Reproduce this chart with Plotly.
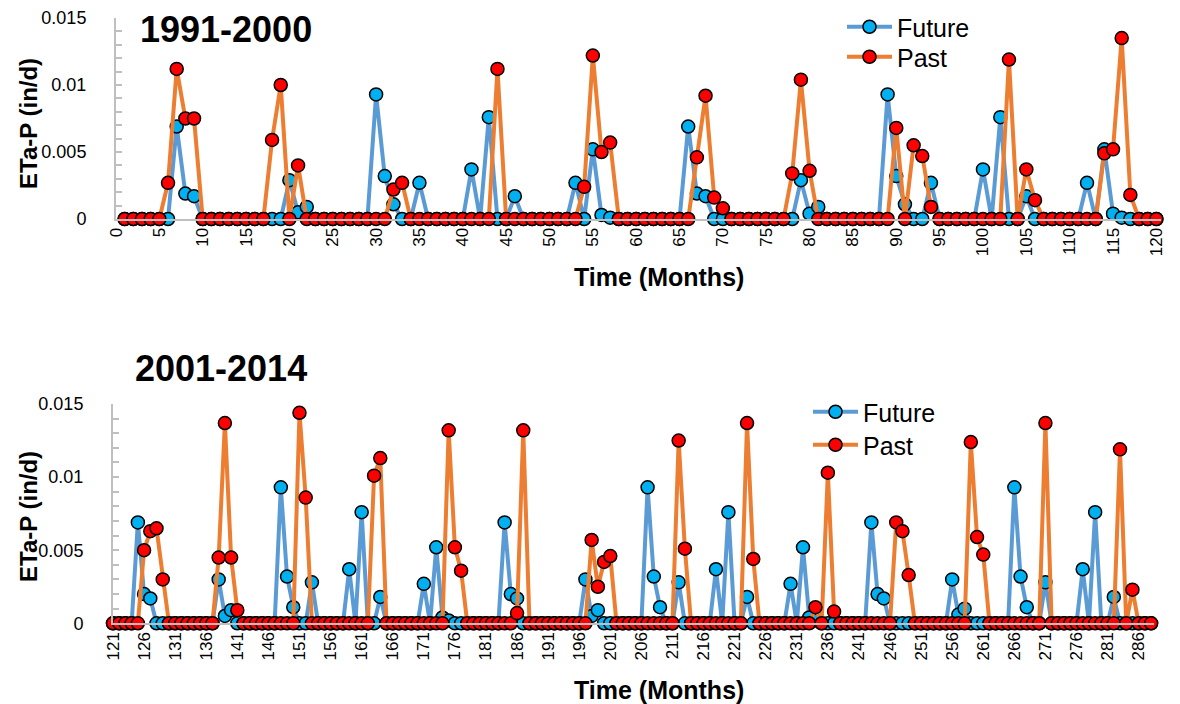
import plotly.graph_objects as go

# ---- data (months with non-zero ETa-P, in/d) ----
top_months = list(range(1, 121))
bottom_months = list(range(121, 289))

future_top = {
    7: 0.0069, 8: 0.0019, 9: 0.0017, 20: 0.0029, 21: 0.0005, 22: 0.0009,
    30: 0.0093, 31: 0.0032, 32: 0.0011, 35: 0.0027, 41: 0.0037, 43: 0.0076,
    46: 0.0017, 53: 0.0027, 55: 0.0052, 56: 0.0003, 57: 0.0001, 66: 0.0069,
    67: 0.0019, 68: 0.0017, 79: 0.0029, 80: 0.0004, 81: 0.0009, 89: 0.0093,
    90: 0.0032, 91: 0.0011, 94: 0.0027, 100: 0.0037, 102: 0.0076, 105: 0.0017,
    112: 0.0027, 114: 0.0052, 115: 0.0004, 116: 0.0001,
}
past_top = {
    6: 0.0027, 7: 0.0112, 8: 0.0075, 9: 0.0075, 18: 0.0059, 19: 0.0100,
    21: 0.0040, 32: 0.0022, 33: 0.0027, 44: 0.0112, 54: 0.0024, 55: 0.0122,
    56: 0.0050, 57: 0.0057, 67: 0.0046, 68: 0.0092, 69: 0.0016, 70: 0.0008,
    78: 0.0034, 79: 0.0104, 80: 0.0036, 90: 0.0068, 92: 0.0055, 93: 0.0047,
    94: 0.0009, 103: 0.0119, 105: 0.0037, 106: 0.0014, 114: 0.0049, 115: 0.0052,
    116: 0.0135, 117: 0.0018,
}
future_bottom = {
    125: 0.0069, 126: 0.0020, 127: 0.0017, 138: 0.0030, 139: 0.0005, 140: 0.0009,
    148: 0.0093, 149: 0.0032, 150: 0.0011, 153: 0.0028, 159: 0.0037, 161: 0.0076,
    164: 0.0018, 171: 0.0027, 173: 0.0052, 174: 0.0004, 175: 0.0002, 184: 0.0069,
    185: 0.0020, 186: 0.0017, 197: 0.0030, 198: 0.0005, 199: 0.0009, 207: 0.0093,
    208: 0.0032, 209: 0.0011, 212: 0.0028, 218: 0.0037, 220: 0.0076, 223: 0.0018,
    230: 0.0027, 232: 0.0052, 233: 0.0004, 234: 0.0002, 243: 0.0069, 244: 0.0020,
    245: 0.0017, 256: 0.0030, 257: 0.0006, 258: 0.0010, 266: 0.0093, 267: 0.0032,
    268: 0.0011, 271: 0.0028, 277: 0.0037, 279: 0.0076, 282: 0.0018,
}
past_bottom = {
    126: 0.0050, 127: 0.0063, 128: 0.0065, 129: 0.0030, 138: 0.0045, 139: 0.0137,
    140: 0.0045, 141: 0.0009, 151: 0.0144, 152: 0.0086, 163: 0.0101, 164: 0.0113,
    175: 0.0132, 176: 0.0052, 177: 0.0036, 186: 0.0007, 187: 0.0132, 198: 0.0057,
    199: 0.0025, 200: 0.0042, 201: 0.0046, 212: 0.0125, 213: 0.0051, 223: 0.0137,
    224: 0.0044, 234: 0.0011, 236: 0.0103, 237: 0.0008, 247: 0.0069, 248: 0.0063,
    249: 0.0033, 259: 0.0124, 260: 0.0059, 261: 0.0047, 271: 0.0137, 283: 0.0119,
    285: 0.0023,
}

top_ticks = list(range(0, 121, 5))
bottom_ticks = list(range(121, 289, 5))
y_ticks = [0, 0.005, 0.01, 0.015]
y_ticktext = ["0", "0.005", "0.01", "0.015"]

W, H = 1180, 704
FONT = "Liberation Sans, Arial, sans-serif"
BLUE_LINE, BLUE_MARK = "#5B9BD5", "#00B0F0"
ORANGE_LINE, RED_MARK = "#ED7D31", "#FF0000"


def series(months, values):
    return [values.get(m, 0.0) for m in months]


def px(x):
    return x / W


def py(y):
    return 1 - y / H


fig = go.Figure()

# one legend per row so each entry can sit where the reference has it
for months, fut, pst, xa, ya, leg_f, leg_p in [
    (top_months, future_top, past_top, "x", "y", "legend2", "legend3"),
    (bottom_months, future_bottom, past_bottom, "x2", "y2", "legend4", "legend5"),
]:
    fig.add_trace(go.Scatter(
        x=months, y=series(months, fut), mode="lines+markers", name="Future",
        line=dict(color=BLUE_LINE, width=4),
        marker=dict(size=13, color=BLUE_MARK, line=dict(color="black", width=1.5)),
        cliponaxis=False, xaxis=xa, yaxis=ya, legend=leg_f, showlegend=True,
    ))
    fig.add_trace(go.Scatter(
        x=months, y=series(months, pst), mode="lines+markers", name="Past",
        line=dict(color=ORANGE_LINE, width=4),
        marker=dict(size=13, color=RED_MARK, line=dict(color="black", width=1.5)),
        cliponaxis=False, xaxis=xa, yaxis=ya, legend=leg_p, showlegend=True,
    ))

xcommon = dict(
    showgrid=False, zeroline=False, showline=True, linecolor="#BFBFBF", linewidth=2,
    ticks="", tickangle=-90, automargin=False,
    tickfont=dict(size=17, color="black", family=FONT),
)
ycommon = dict(
    showgrid=False, zeroline=False, showline=True, linecolor="#BFBFBF", linewidth=2,
    range=[0, 0.015], tickvals=y_ticks, ticktext=y_ticktext, automargin=False,
    ticks="inside", ticklen=6, tickcolor="#BFBFBF", tickwidth=1.5,
    minor=dict(ticks="inside", dtick=0.001, ticklen=6, tickcolor="#BFBFBF", tickwidth=1.5),
    tickfont=dict(size=18, color="black", family=FONT), ticklabelstandoff=24,
)


def legend_at(marker_x, row_y):
    return dict(x=px(marker_x - 22), y=py(row_y - 23), xanchor="left", yanchor="top",
                bgcolor="rgba(0,0,0,0)", itemwidth=45,
                font=dict(size=25, family=FONT, color="black"))


fig.update_layout(
    width=W, height=H,
    margin=dict(l=0, r=0, t=0, b=0),
    paper_bgcolor="white", plot_bgcolor="white",
    font=dict(family=FONT, color="black"),
    showlegend=True,
    xaxis=dict(xcommon, domain=[px(116), px(1160.7)], range=[0, 120.5],
               tickvals=top_ticks, anchor="y"),
    yaxis=dict(ycommon, domain=[py(219), py(18)], anchor="x"),
    xaxis2=dict(xcommon, domain=[px(113), px(1154.2)], range=[121, 288.5],
                tickvals=bottom_ticks, anchor="y2"),
    yaxis2=dict(ycommon, domain=[py(623.3), py(404)], anchor="x2"),
    legend2=legend_at(864, 27),
    legend3=legend_at(864, 57),
    legend4=legend_at(830, 412),
    legend5=legend_at(830, 445),
)

annotations = [
    dict(text="<b>1991-2000</b>", x=px(138), y=py(30), font=dict(size=36)),
    dict(text="<b>2001-2014</b>", x=px(133), y=py(368), font=dict(size=36)),
]
for a in annotations:
    a.update(xref="paper", yref="paper", xanchor="left", yanchor="middle", showarrow=False)

for yc in (124, 517):
    annotations.append(dict(
        text="<b>ETa-P (in/d)</b>", x=px(28), y=py(yc), xref="paper", yref="paper",
        textangle=-90, showarrow=False, xanchor="center", yanchor="middle",
        font=dict(size=24),
    ))
for yc in (277, 690):
    annotations.append(dict(
        text="<b>Time (Months)</b>", x=px(659), y=py(yc), xref="paper", yref="paper",
        showarrow=False, xanchor="center", yanchor="middle", font=dict(size=25),
    ))
fig.update_layout(annotations=annotations)

# the page's default body margin would shift the figure by 8 px
fig.write_html("out.html", config={"displayModeBar": False},
               post_script="document.body.style.margin='0px';")
